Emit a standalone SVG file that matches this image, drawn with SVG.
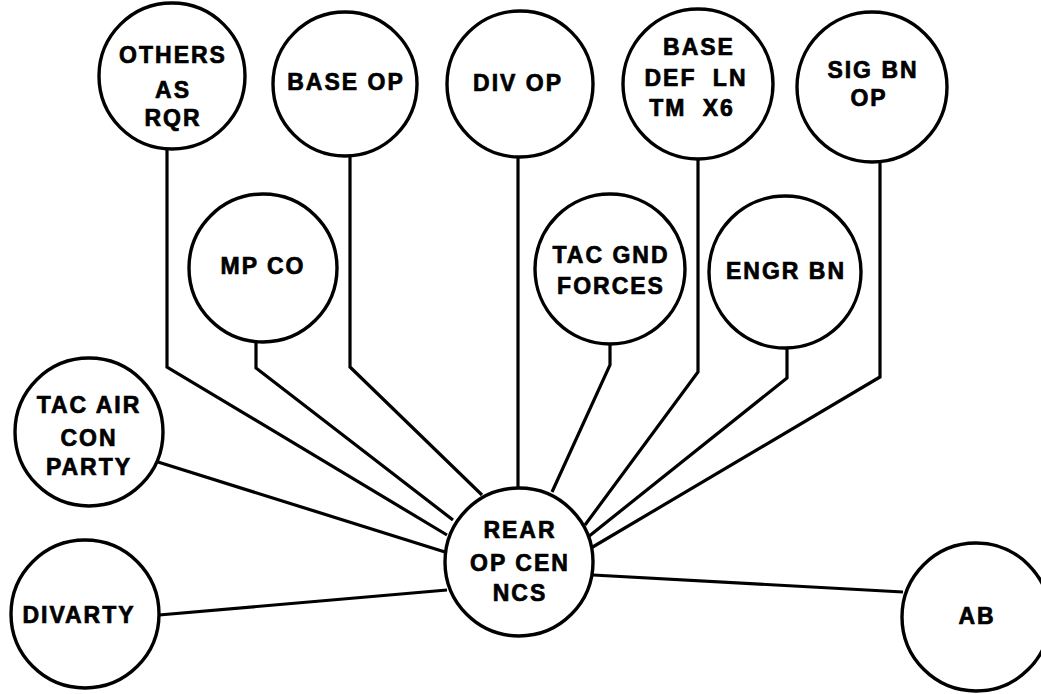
<svg xmlns="http://www.w3.org/2000/svg" width="1041" height="694" viewBox="0 0 1041 694">
<style>
.node circle{fill:#fff;stroke:#000;stroke-width:3.4}
.node text{font-family:"Liberation Sans",Arial,sans-serif;font-weight:bold;font-size:23px;letter-spacing:2px;text-anchor:middle;fill:#000;stroke:#000;stroke-width:0.7}
#connectors polyline{fill:none;stroke:#000;stroke-width:3.2;stroke-linejoin:miter}
</style>
<rect width="1041" height="694" fill="#fff"/>
<g id="connectors">
<polyline points="167,148 167,367 447,535"/>
<polyline points="256,341 256,368 453,520"/>
<polyline points="350,157 350,367 482,495"/>
<polyline points="518,157 518,490"/>
<polyline points="610,343 610,365 552,492"/>
<polyline points="698,158 698,372 585,525"/>
<polyline points="787,347 787,378 588,537"/>
<polyline points="880,161 880,377 591,548"/>
<polyline points="158,462 445,552"/>
<polyline points="159,615 447,590"/>
<polyline points="593,575 903,592"/>
</g>
<g id="others" class="node"><circle cx="172" cy="76" r="73"/><text x="173" y="63">OTHERS</text><text x="173" y="98">AS</text><text x="173" y="126">RQR</text></g>
<g id="base-op" class="node"><circle cx="345" cy="84" r="72"/><text x="346" y="90">BASE OP</text></g>
<g id="div-op" class="node"><circle cx="520" cy="84" r="73"/><text x="518" y="91">DIV OP</text></g>
<g id="base-def" class="node"><circle cx="698" cy="84" r="75"/><text x="699" y="55">BASE</text><text x="696" y="86" word-spacing="8">DEF LN</text><text x="692" y="116" word-spacing="8">TM X6</text></g>
<g id="sig-bn" class="node"><circle cx="872" cy="87" r="75"/><text x="873" y="78">SIG BN</text><text x="869" y="106">OP</text></g>
<g id="mp-co" class="node"><circle cx="263" cy="268" r="74"/><text x="263" y="274">MP CO</text></g>
<g id="tac-gnd" class="node"><circle cx="610" cy="269" r="75"/><text x="611" y="263">TAC GND</text><text x="611" y="294">FORCES</text></g>
<g id="engr-bn" class="node"><circle cx="785" cy="272" r="76"/><text x="786" y="279">ENGR BN</text></g>
<g id="tac-air" class="node"><circle cx="89" cy="432" r="74"/><text x="89" y="413">TAC AIR</text><text x="89" y="446">CON</text><text x="89" y="475">PARTY</text></g>
<g id="divarty" class="node"><circle cx="85" cy="614" r="74"/><text x="79" y="623">DIVARTY</text></g>
<g id="rear" class="node"><circle cx="519" cy="562" r="74"/><text x="520" y="538">REAR</text><text x="520" y="571">OP CEN</text><text x="520" y="601">NCS</text></g>
<g id="ab" class="node"><circle cx="976" cy="617" r="74"/><text x="977" y="624">AB</text></g>
</svg>
